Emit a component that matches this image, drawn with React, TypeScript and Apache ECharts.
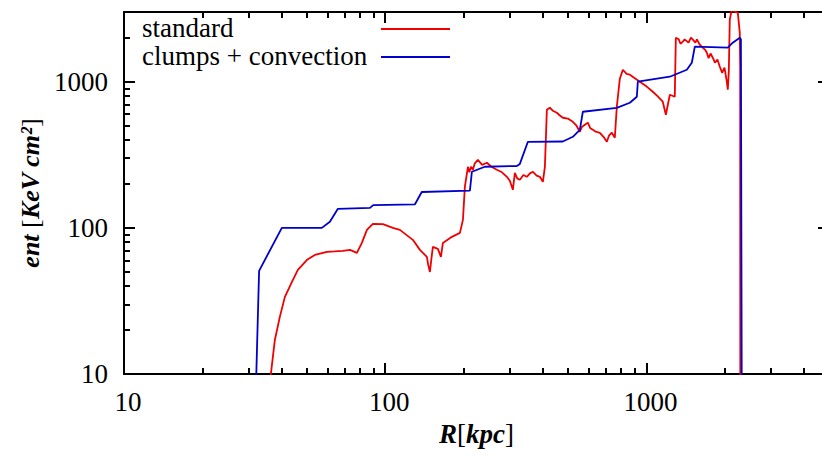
import React, { useEffect, useRef } from "react";
import * as echarts from "echarts";

const xMajor = [10, 100, 1000];
const xMinor = [20, 30, 40, 50, 60, 70, 80, 90, 200, 300, 400, 500, 600, 700, 800, 900, 2000, 3000, 4000];
const yMajor = [10, 100, 1000];
const yMinor = [20, 30, 40, 50, 60, 70, 80, 90, 200, 300, 400, 500, 600, 700, 800, 900, 2000];

const seriesNames = ["standard", "clumps + convection"];
const seriesColors = ["#f00000", "#0000cc"];

const standardR = [
  36.0, 36.5, 37.8, 39.5, 41.3, 43.95, 46.3, 50.2, 53.8, 59.8, 64, 68.9, 73.3, 77.9, 81.4, 85.1, 89.7, 98.0,
  107, 113.8, 127.6, 135.8, 144.4, 146, 148.3, 150, 152.2, 159.1, 163.4, 166.3, 180.0, 193.2, 198.4, 201.8,
  207.3, 210, 213, 216.6, 220, 226.3, 235, 245.1, 255, 267.6, 280, 292.3, 300, 308.1, 313.6, 320, 327.7, 338,
  348.6, 358, 367.6, 380, 390.9, 401.4, 408.6, 415.8, 426.9, 440, 454.1, 465, 478.6, 500, 522.8, 540, 556.0,
  566, 581.1, 596.7, 610, 623.6, 640, 663.3, 685, 705.5, 720, 737.3, 756.9, 770.3, 791.0, 812.3, 840,
  864.1, 900, 943.4, 1000, 1058, 1100, 1155, 1187, 1229, 1284, 1296, 1330, 1350, 1378, 1400, 1450, 1480, 1505,
  1540, 1560, 1601, 1650, 1680, 1703, 1730, 1760, 1795, 1830, 1870, 1910, 1950, 1990, 2031, 2049, 2067, 2085,
  2122, 2179, 2238, 2277, 2285, 2288,
];
const standardE = [
  8, 10, 17.1, 24.6, 33.7, 42.7, 51.6, 60.4, 65.3, 68.5, 69, 69.6, 70.7, 67.4, 78.9, 96.9, 106.5, 106,
  100, 96.9, 82.8, 70.7, 63.3, 56, 49.9, 60, 74.1, 71.8, 63.3, 78.9, 86.8, 92.4, 113.4, 190.9,
  261.7, 240, 262, 249.6, 275, 292.4, 270, 278.8, 262, 249.6, 240, 223.6, 210, 182.1, 238.1, 218, 213.2, 230,
  223.6, 236, 241.9, 228, 223.6, 206.6, 261.7, 643, 663.6, 630, 613.3, 590, 566.9, 560, 532.1, 500, 454.4,
  490, 507.5, 524.0, 480, 469.1, 455, 447.4, 420, 388.2, 430, 447.4, 413.4, 674.3, 1048, 1208, 1130,
  1117, 1060, 1000, 930, 854.2, 800, 729.5, 594.3, 814.7, 789.4, 2002, 1950, 1820, 1879, 1950, 1850, 2000, 1940,
  1850, 1950, 1792, 1700, 1650, 1580, 1450, 1560, 1460, 1350, 1420, 1267, 1150, 1250, 1000, 881.6, 1171, 2659,
  3113, 3016, 2969, 2166, 1267, 5,
];

const clumpsR = [
  31.9, 32.1, 32.9, 40.2, 57.2, 61.4, 65.9, 87.4, 90, 130, 138, 211, 214.7, 240.7, 319, 327.7, 351.7, 478.6,
  522.9, 556, 571, 770, 864, 919, 927, 1229, 1428, 1492, 1532, 2048, 2141, 2277, 2300, 2318,
];
const clumpsE = [
  5, 10, 50.8, 100, 100, 110, 135, 137, 143, 145, 176, 180, 242, 262, 265, 274, 388, 390,
  420, 469, 623, 663, 718, 789, 1000, 1082, 1208, 1349, 1737, 1710, 1849, 2001, 1950, 5,
];

const FONT = "Liberation Serif";

function pairs(xs: number[], ys: number[]) {
  return xs.map((x, i) => [x, ys[i]]);
}

function makeAxis(kind: "x" | "y", position: string, ticks: number[], major: boolean, showLabel: boolean, showLine: boolean) {
  const isX = kind === "x";
  return {
    type: "log",
    logBase: 10,
    min: 10,
    max: isX ? 5000 : 3000,
    position,
    axisLine: { show: showLine, onZero: false, lineStyle: { color: "#000", width: 2 } },
    axisTick: {
      show: true,
      inside: true,
      length: major ? 11 : 6,
      customValues: ticks,
      lineStyle: { color: "#000", width: 2 },
    },
    axisLabel: {
      show: showLabel,
      customValues: ticks,
      margin: isX ? 14 : 16,
      color: "#000",
      fontSize: 27,
      fontFamily: FONT,
      padding: isX ? [0, 0, 0, 8] : 0,
      formatter: (v: number) => String(Math.round(v)),
    },
    splitLine: { show: false },
    minorTick: { show: false },
    minorSplitLine: { show: false },
  };
}

function legendEntry(name: string, color: string, cy: number) {
  return {
    type: "group",
    children: [
      {
        type: "text",
        x: 142,
        y: cy,
        style: {
          text: name,
          fontFamily: FONT,
          fontSize: 27,
          fill: "#000",
          align: "left",
          verticalAlign: "middle",
        },
      },
      {
        type: "line",
        shape: { x1: 381, y1: cy + 1, x2: 450, y2: cy + 1 },
        style: { stroke: color, lineWidth: 2 },
      },
    ],
  };
}

export default function App() {
  const ref = useRef<HTMLDivElement>(null);
  useEffect(() => {
    if (!ref.current) return;
    const chart = echarts.init(ref.current, null, { renderer: "svg" });
    const xBottom: any = makeAxis("x", "bottom", xMajor, true, true, true);
    xBottom.name = "{b|R}{r|[}{b|kpc}{r|]}";
    xBottom.nameLocation = "middle";
    xBottom.nameGap = 46;
    xBottom.nameTextStyle = {
      color: "#000",
      rich: {
        b: { fontFamily: FONT, fontWeight: "bold", fontStyle: "italic", fontSize: 27, color: "#000" },
        r: { fontFamily: FONT, fontSize: 27, color: "#000" },
      },
    };
    const yLeft: any = makeAxis("y", "left", yMajor, true, true, true);
    yLeft.name = "{b|ent}{r| [}{b|KeV cm²}{r|]}";
    yLeft.nameLocation = "middle";
    yLeft.nameRotate = 90;
    yLeft.nameGap = 76;
    yLeft.nameTextStyle = {
      color: "#000",
      rich: {
        b: { fontFamily: FONT, fontWeight: "bold", fontStyle: "italic", fontSize: 26, color: "#000" },
        r: { fontFamily: FONT, fontSize: 26, color: "#000" },
      },
    };
    chart.setOption({
      animation: false,
      backgroundColor: "#fff",
      textStyle: { fontFamily: FONT, color: "#000" },
      grid: { left: 124, right: -7, top: 12, bottom: 82, containLabel: false, outerBoundsMode: "none" },
      graphic: [legendEntry(seriesNames[0], seriesColors[0], 28), legendEntry(seriesNames[1], seriesColors[1], 56)],
      xAxis: [
        xBottom,
        makeAxis("x", "bottom", xMinor, false, false, false),
        makeAxis("x", "top", xMajor, true, false, true),
        makeAxis("x", "top", xMinor, false, false, false),
      ],
      yAxis: [
        yLeft,
        makeAxis("y", "left", yMinor, false, false, false),
        makeAxis("y", "right", yMajor, true, false, true),
        makeAxis("y", "right", yMinor, false, false, false),
      ],
      series: [
        {
          name: seriesNames[0],
          type: "line",
          xAxisIndex: 0,
          yAxisIndex: 0,
          data: pairs(standardR, standardE),
          showSymbol: false,
          symbol: "none",
          clip: true,
          lineStyle: { color: seriesColors[0], width: 1.8 },
          itemStyle: { color: seriesColors[0] },
        },
        {
          name: seriesNames[1],
          type: "line",
          xAxisIndex: 0,
          yAxisIndex: 0,
          data: pairs(clumpsR, clumpsE),
          showSymbol: false,
          symbol: "none",
          clip: true,
          lineStyle: { color: seriesColors[1], width: 1.8 },
          itemStyle: { color: seriesColors[1] },
        },
      ],
    });
    return () => chart.dispose();
  }, []);
  return (
    <div
      ref={ref}
      style={{ position: "fixed", left: 0, top: 0, width: 822, height: 456, background: "#fff" }}
    />
  );
}
